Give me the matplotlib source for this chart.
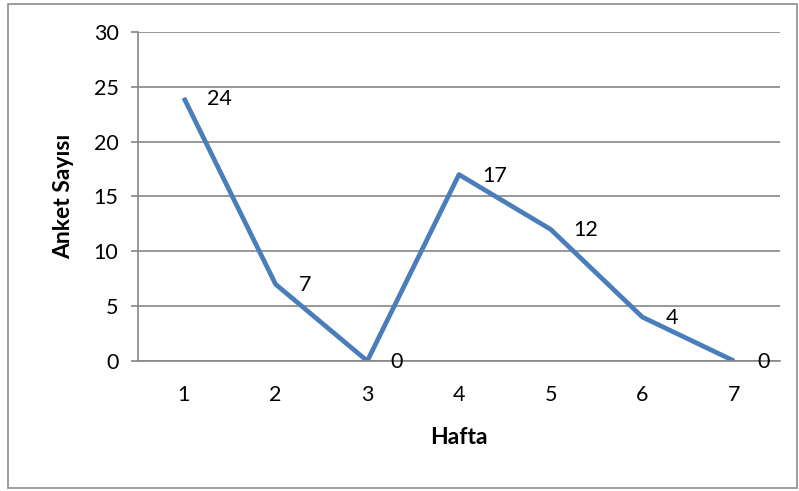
import matplotlib.pyplot as plt
from matplotlib.patches import Rectangle

weeks = [1, 2, 3, 4, 5, 6, 7]
counts = [24, 7, 0, 17, 12, 4, 0]
y_ticks = [0, 5, 10, 15, 20, 25, 30]

plt.rcParams['font.family'] = ['Lato', 'DejaVu Sans']

fig = plt.figure(figsize=(7.99, 4.91), dpi=100)
ax = fig.add_axes([0.1727, 0.2648, 0.8035, 0.670])

# outer chart border
fig.patches.append(Rectangle((0.010, 0.006), 0.987, 0.986, transform=fig.transFigure,
                             fill=False, edgecolor='#8c8c8c', linewidth=1.2))

ax.plot(weeks, counts, color='#4A7EBB', linewidth=3.4, solid_capstyle='butt')
for x, y in zip(weeks, counts):
    ax.annotate(str(y), (x, y), xytext=(23, -1), textcoords='offset pixels',
                ha='left', va='center', fontsize=15.5, color='black')

ax.set_xlim(0.5, 7.5)
ax.set_ylim(0, 30)
ax.set_xticks(weeks)
ax.set_yticks(y_ticks)
ax.yaxis.grid(True, color='#868686', linewidth=1.2)
ax.set_axisbelow(True)

for s in ['top', 'right']:
    ax.spines[s].set_visible(False)
ax.spines['left'].set_color('#868686')
ax.spines['bottom'].set_color('#868686')
ax.spines['left'].set_linewidth(1.2)
ax.spines['bottom'].set_linewidth(1.2)

ax.tick_params(axis='y', length=5, color='#868686', width=1.2, labelsize=15.5, pad=9)
ax.tick_params(axis='x', length=0, labelsize=15.5, pad=17)

ax.set_xlabel('Hafta', fontsize=16.5, fontweight='bold', labelpad=16)
ax.set_ylabel('Anket Sayısı', fontsize=16.5, fontweight='bold', labelpad=14)

fig.savefig('out.png', dpi=100)
